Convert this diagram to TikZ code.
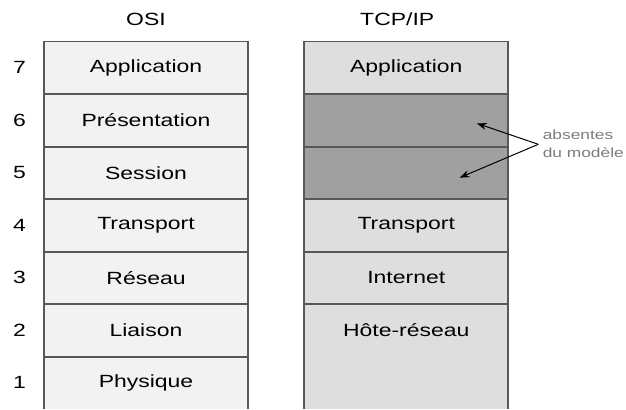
\documentclass[tikz,border=0pt]{standalone}
\usepackage{fontspec}
\setmainfont{Liberation Sans}[FakeStretch=1.3]
\usepackage{tikz}
\usetikzlibrary{positioning}
\usetikzlibrary{arrows.meta}

\definecolor{osifill}{HTML}{F2F2F2}
\definecolor{tcpfill}{HTML}{DEDEDE}
\definecolor{missfill}{HTML}{A0A0A0}
\definecolor{edgegray}{HTML}{585858}
\definecolor{notegray}{HTML}{7C7C7C}

\begin{document}
\begin{tikzpicture}[x=0.6pt, y=-0.6pt,
    layer/.style={minimum width=122.4pt, minimum height=31.5pt, inner sep=0pt, outer sep=0pt,
        font=\fontsize{10.6}{12}\selectfont},
    osilayer/.style={layer, fill=osifill},
    tcplayer/.style={layer, fill=tcpfill},
    misslayer/.style={layer, fill=missfill},
    frame/.style={draw=edgegray, line width=1.1pt},
    sep/.style={draw=edgegray, line width=1.2pt},
    num/.style={inner sep=0pt, font=\fontsize{10.6}{12}\selectfont},
    title/.style={inner sep=0pt, font=\fontsize{10.6}{12}\selectfont},
    note/.style={inner sep=0pt, align=left, text=notegray, font=\fontsize{8}{10.8}\selectfont},
    pointer/.style={-{Stealth[length=6pt,width=4.2pt]}, line width=0.6pt}]
    \useasboundingbox (0,0) rectangle (626,409);

    % Couches OSI
    \node[osilayer] (osi7) at (146,67.75) {Application};
    \node[osilayer, below=0pt of osi7] (osi6) {Présentation};
    \node[osilayer, below=0pt of osi6] (osi5) {Session};
    \node[osilayer, below=0pt of osi5] (osi4) {Transport};
    \node[osilayer, below=0pt of osi4] (osi3) {Réseau};
    \node[osilayer, below=0pt of osi3] (osi2) {Liaison};
    \node[osilayer, below=0pt of osi2] (osi1) {Physique};

    % Couches TCP/IP
    \node[tcplayer] (tcp7) at (406.25,67.75) {Application};
    \node[misslayer, below=0pt of tcp7] (tcp6) {};
    \node[misslayer, below=0pt of tcp6] (tcp5) {};
    \node[tcplayer, below=0pt of tcp5] (tcp4) {Transport};
    \node[tcplayer, below=0pt of tcp4] (tcp3) {Internet};
    \node[tcplayer, minimum height=63pt, below=0pt of tcp3] (tcphost) {};
    \node[title] (hostlabel) at (tcphost |- osi2) {Hôte-réseau};

    % Cadres et séparations
    \draw[frame] (osi1.south west) -- (osi7.north west) -- (osi7.north east) -- (osi1.south east);
    \foreach \i in {1,...,6}
        \draw[sep] (osi\i.north west) -- (osi\i.north east);
    \draw[frame] (tcphost.south west) -- (tcp7.north west) -- (tcp7.north east) -- (tcphost.south east);
    \foreach \n in {tcp6,tcp5,tcp4,tcp3,tcphost}
        \draw[sep] (\n.north west) -- (\n.north east);

    % Numéros et titres
    \foreach \i in {1,...,7}
        \node[num, left=10.6pt of osi\i] (num\i) {\i};
    \node[title, above=9.3pt of osi7] (osititle) {OSI};
    \node[title, above=9.3pt of tcp7, xshift=-5.4pt] (tcptitle) {TCP/IP};

    % Couches absentes
    \node[note, anchor=west] (absent) at (542.5,144) {absentes\\du modèle};
    \coordinate (fork) at (538.3,144.3);
    \coordinate (tip6) at (476.7,123.3);
    \coordinate (tip5) at (459.5,177.7);
    \draw[pointer] (fork) -- (tip6);
    \draw[pointer] (fork) -- (tip5);
\end{tikzpicture}
\end{document}
